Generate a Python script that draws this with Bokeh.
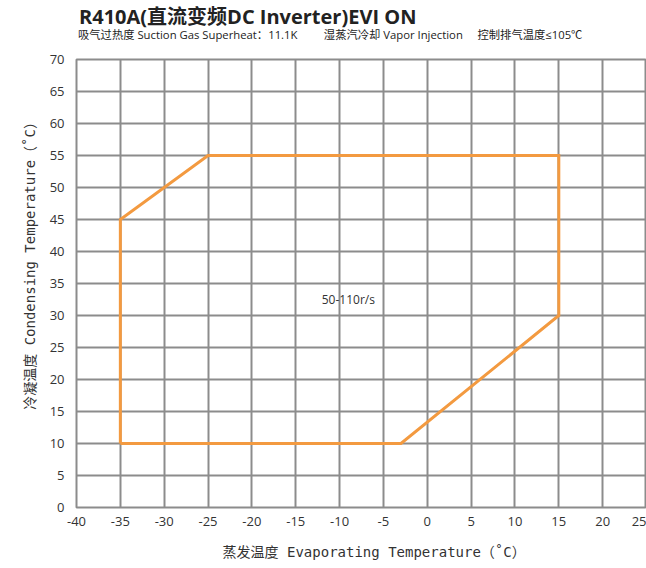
from bokeh.plotting import figure
from bokeh.models import Range1d, FixedTicker, Label, Div
from bokeh.layouts import column
from bokeh.embed import file_html
from bokeh.resources import INLINE

# Data
evap_temp = [-35, -35, -25, 15, 15, -3, -35]
cond_temp = [10, 45, 55, 55, 30, 10, 10]
x_ticks = list(range(-40, 30, 5))
y_ticks = list(range(0, 75, 5))
speed_label = "50-110r/s"
speed_label_pos = (-9, 32.5)

NB = "\u00a0"
title_text = "R410A(直流变频DC Inverter)EVI ON"
subtitle_text = ("吸气过热度 Suction Gas Superheat：11.1K" + NB * 9 +
                 "湿蒸汽冷却 Vapor Injection" + NB * 5 + "控制排气温度≤105℃")
x_label = NB * 3 + "蒸发温度 Evaporating Temperature（˚C）"
y_label = NB * 5 + "冷凝温度 Condensing Temperature（˚C）"

SANS = "Open Sans, Noto Sans CJK SC"
MONO = "DejaVu Sans Mono, Noto Sans CJK SC"
GRID = "#8c8c8c"
ORANGE = "#F39A40"

header_html = (
    '<div style="position:absolute;left:79px;top:6px;white-space:nowrap;'
    "font-family:'Open Sans','Noto Sans CJK SC',sans-serif;font-weight:bold;"
    'font-size:20px;line-height:22px;color:#222222;">' + title_text + '</div>'
    '<div style="position:absolute;left:78px;top:28px;white-space:nowrap;'
    "font-family:'Open Sans','Noto Sans CJK SC',sans-serif;font-weight:normal;"
    'font-size:11.3px;line-height:14px;color:#222222;">' + subtitle_text + '</div>'
)
header = Div(text=header_html, width=646, height=49,
             styles={"position": "relative", "margin": "0", "padding": "0"})

p = figure(width=646, height=518, output_backend="svg", toolbar_location=None,
           x_range=Range1d(-40, 25), y_range=Range1d(0, 70),
           min_border_left=76, min_border_right=0, min_border_top=10, min_border_bottom=60)

p.line(evap_temp, cond_temp, line_color=ORANGE, line_width=3, line_join="miter")

p.add_layout(Label(x=speed_label_pos[0], y=speed_label_pos[1], text=speed_label,
                   text_font=SANS, text_font_size="12px", text_color="#333333",
                   text_align="center", text_baseline="middle"))

for ax in (p.xaxis[0], p.yaxis[0]):
    ax.axis_line_color = None
    ax.major_tick_line_color = None
    ax.minor_tick_line_color = None
    ax.major_label_text_font = SANS
    ax.major_label_text_font_size = "13px"
    ax.major_label_text_color = "#333333"
    ax.axis_label_text_font = MONO
    ax.axis_label_text_font_size = "14px"
    ax.axis_label_text_font_style = "normal"
    ax.axis_label_text_color = "#333333"

p.xaxis[0].ticker = FixedTicker(ticks=x_ticks)
p.yaxis[0].ticker = FixedTicker(ticks=y_ticks)
p.xaxis[0].major_label_overrides = {t: str(t) for t in x_ticks}
p.yaxis[0].major_label_overrides = {t: str(t) for t in y_ticks}
p.xaxis[0].axis_label = x_label
p.yaxis[0].axis_label = y_label
p.xaxis[0].major_label_standoff = 3
p.yaxis[0].major_label_standoff = 6
p.xaxis[0].axis_label_standoff = 15
p.yaxis[0].axis_label_standoff = 9

p.xgrid.ticker = FixedTicker(ticks=x_ticks)
p.ygrid.ticker = FixedTicker(ticks=y_ticks)
p.grid.grid_line_color = GRID
p.grid.grid_line_width = 2
p.outline_line_color = GRID
p.outline_line_width = 2

layout = column(header, p, spacing=0)
open("out.html", "w").write(file_html(layout, INLINE))
